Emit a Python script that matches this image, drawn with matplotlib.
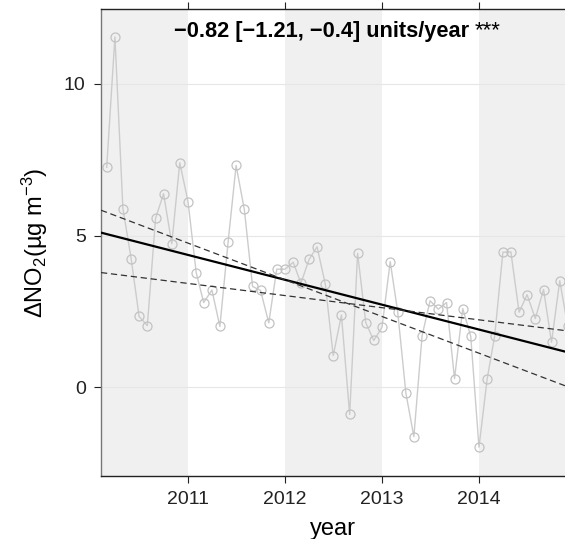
import numpy as np
import pandas as pd
import matplotlib
matplotlib.use("Agg")
import matplotlib.pyplot as plt

plt.rcParams["font.family"] = ["Liberation Sans", "DejaVu Sans"]
plt.rcParams["mathtext.fontset"] = "custom"
plt.rcParams["mathtext.rm"] = "Liberation Sans"
plt.rcParams["mathtext.it"] = "Liberation Sans:italic"

# monthly deseasonalised NO2 anomalies, starting March 2010
start_month = "2010-03-01"
no2 = [7.25, 11.55, 5.89, 4.24, 2.33, 2.03, 5.57, 6.38, 4.73, 7.40,
       6.12, 3.77, 2.79, 3.20, 2.00, 4.79, 7.31, 5.86, 3.32, 3.19, 2.12, 3.89,
       3.89, 4.12, 3.43, 4.21, 4.63, 3.40, 1.04, 2.38, -0.90, 4.41, 2.12, 1.54,
       1.97, 4.14, 2.49, -0.20, -1.63, 1.70, 2.85, 2.57, 2.79, 0.28, 2.59, 1.68,
       -1.98, 0.28, 1.68, 4.45, 4.46, 2.47, 3.05, 2.26, 3.22, 1.48, 3.51, 2.00]

# Theil-Sen slope and its 95% interval (units/year), value of each line at 2010.0
slopes = [-0.82, -1.21, -0.40]
at_2010 = [5.18, 5.96, 3.82]
line_styles = ["-", "--", "--"]

year_ticks = [2011, 2012, 2013, 2014]
y_ticks = [0, 5, 10]
title_text = "\u22120.82 [\u22121.21, \u22120.4] units/year"
stars = "***"
y_label = "\u0394NO$_2$(\u00b5g m$^{-3}$)"


def decimal_year(dates):
    return np.array([d.year + (d.dayofyear - 1) / (366 if d.is_leap_year else 365)
                     for d in dates])


def main():
    dates = pd.date_range(start_month, periods=len(no2), freq="MS")
    x = decimal_year(dates)

    fig = plt.figure(figsize=(5.65, 5.39), dpi=100)
    W, H = 565, 539
    left, right, top, bottom = 101, 565, 9.3, 476
    ax = fig.add_axes([left / W, 1 - bottom / H, (right - left) / W, (bottom - top) / H])

    xlim = (2010.103, 2014.887)
    ylim = (-2.93, 12.46)

    # alternating year shading
    for yr in range(2010, 2015):
        if yr % 2 == 0:
            ax.axvspan(yr, yr + 1, color="#F0F0F0", lw=0, zorder=0)

    for yv in y_ticks:
        ax.axhline(yv, color="#E6E6E6", lw=0.8, zorder=1)

    ax.plot(x, no2, color="#CCCCCC", lw=1.0, marker="o", ms=6.5,
            mfc="none", mec="#C2C2C2", mew=0.9, zorder=2)

    xs = np.array(xlim)
    for s, b, ls in zip(slopes, at_2010, line_styles):
        if ls == "-":
            ax.plot(xs, b + s * (xs - 2010), color="black", lw=1.6, zorder=3)
        else:
            ax.plot(xs, b + s * (xs - 2010), color="#333333", lw=0.9,
                    ls=ls, dashes=(5, 3), zorder=3)

    ax.set_xlim(*xlim)
    ax.set_ylim(*ylim)
    ax.set_xticks(year_ticks)
    ax.set_yticks(y_ticks)
    ax.tick_params(axis="both", direction="out", length=5, width=0.8,
                   labelsize=14, colors="#222222", pad=6)
    ax.tick_params(axis="x", top=True, labeltop=False)

    for side in ["top", "bottom"]:
        ax.spines[side].set_color("#222222")
        ax.spines[side].set_linewidth(1.0)
    ax.spines["left"].set_color("#777777")
    ax.spines["left"].set_linewidth(1.0)
    ax.spines["right"].set_visible(False)

    ax.set_xlabel("year", fontsize=17, labelpad=7)
    ax.set_ylabel(y_label, fontsize=17, labelpad=10)

    t = ax.text(0.476, 0.9535, title_text, transform=ax.transAxes, ha="center",
                va="center", fontsize=15.7, fontweight="bold", zorder=5)
    ax.annotate(stars, xy=(1, 0.5), xycoords=t, xytext=(3.5, 0),
                textcoords="offset points", ha="left", va="center", fontsize=16)

    fig.savefig("out.png", dpi=100)


if __name__ == "__main__":
    main()
